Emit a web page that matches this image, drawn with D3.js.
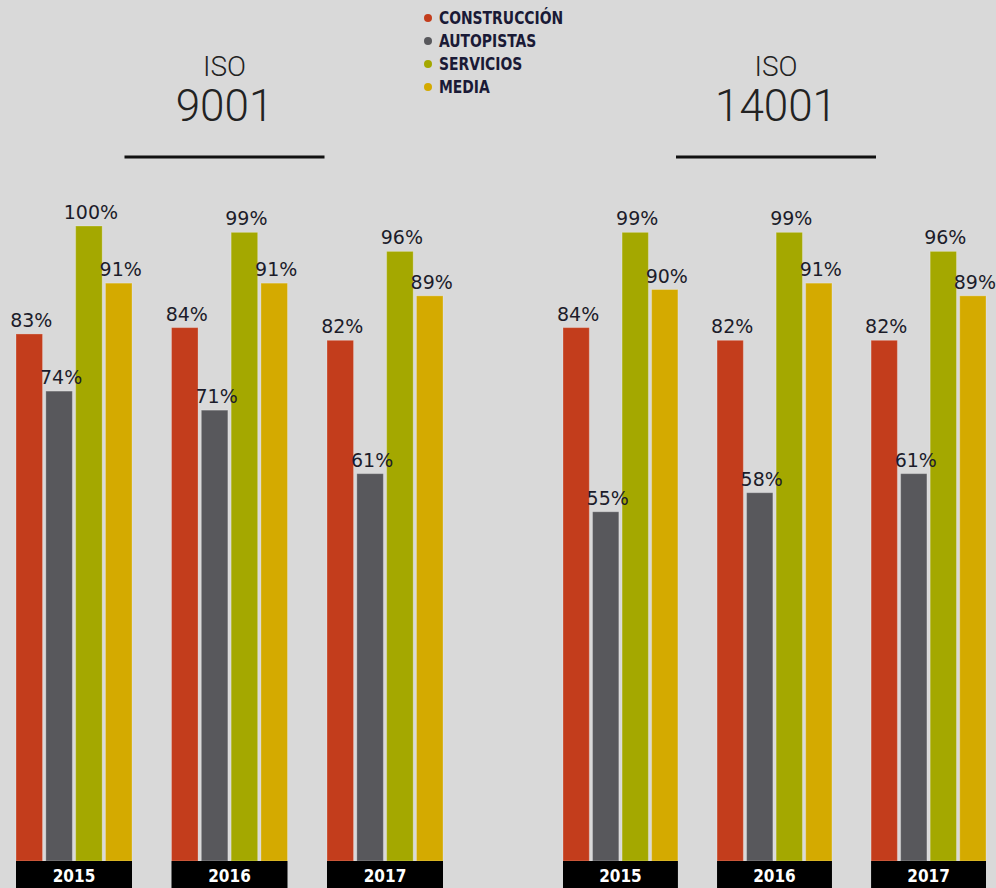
<!DOCTYPE html>
<html>
<head>
<meta charset="utf-8">
<script src="https://cdn.jsdelivr.net/npm/d3@7"></script>
<style>
  body { margin: 0; background: #d9d9d9; }
  svg { display: block; }
</style>
</head>
<body>
<div id="chart"></div>
<script>
// data
const years = ["2015", "2016", "2017"];
const series = ["CONSTRUCCIÓN", "AUTOPISTAS", "SERVICIOS", "MEDIA"];
const colors = ["#c33d1c", "#58585c", "#a4a800", "#d4aa00"];
const iso9001Values = [[83, 74, 100, 91], [84, 71, 99, 91], [82, 61, 96, 89]];
const iso14001Values = [[84, 55, 99, 90], [82, 58, 99, 91], [82, 61, 96, 89]];

var width = 996, height = 888;

var svg = d3.select("#chart").append("svg")
    .attr("width", width)
    .attr("height", height);

svg.append("rect").attr("width", width).attr("height", height).attr("fill", "#d9d9d9");

var y = d3.scaleLinear().domain([0, 100]).range([861, 226]);
var color = d3.scaleOrdinal().domain(series).range(colors);

var panels = [
    { name: "9001", values: iso9001Values, x0: 16, x1: 443, tx: 224.5 },
    { name: "14001", values: iso14001Values, x0: 563, x1: 986, tx: 776 }
];

panels.forEach(function(p) {
    var x = d3.scaleBand().domain(years).range([p.x0, p.x1]).paddingInner(0.254);
    var xi = d3.scaleBand().domain(series).range([0, x.bandwidth()]).paddingInner(0.11);
    var cx = p.tx;

    // title
    var t = svg.append("g").attr("class", "title");
    t.append("text")
        .attr("x", cx).attr("y", 76)
        .attr("text-anchor", "middle")
        .style("font-family", "Roboto, Liberation Sans, sans-serif")
        .style("font-weight", "300")
        .style("font-size", "28px")
        .style("fill", "#222")
        .text("ISO");
    t.append("text")
        .attr("x", cx).attr("y", 121)
        .attr("text-anchor", "middle")
        .style("font-family", "Roboto, Liberation Sans, sans-serif")
        .style("font-weight", "300")
        .style("font-size", "44px")
        .style("fill", "#222")
        .text(p.name);
    t.append("line")
        .attr("x1", cx - 100).attr("x2", cx + 100)
        .attr("y1", 157).attr("y2", 157)
        .attr("stroke", "#111").attr("stroke-width", 3);

    var g = svg.selectAll(".grp-" + p.name)
        .data(years)
        .enter().append("g")
        .attr("class", "grp-" + p.name)
        .attr("transform", function(d) { return "translate(" + x(d) + ",0)"; });

    g.selectAll("rect.bar")
        .data(function(d, i) {
            return p.values[i].map(function(v, j) { return { s: series[j], v: v }; });
        })
        .enter().append("rect")
        .attr("class", "bar")
        .attr("x", function(d) { return xi(d.s); })
        .attr("y", function(d) { return y(d.v); })
        .attr("width", xi.bandwidth())
        .attr("height", function(d) { return y(0) - y(d.v); })
        .attr("fill", function(d) { return color(d.s); })
        .attr("stroke", "rgba(255,255,255,0.25)")
        .attr("stroke-width", 1);

    //value labels
    g.selectAll("text.val")
        .data(function(d, i) {
            return p.values[i].map(function(v, j) { return { s: series[j], v: v }; });
        })
        .enter().append("text")
        .attr("class", "val")
        .attr("x", function(d) { return xi(d.s) + xi.bandwidth() / 2 + 2; })
        .attr("y", function(d) { return y(d.v) - 7; })
        .attr("text-anchor", "middle")
        .style("font-family", "DejaVu Sans, sans-serif")
        .style("font-size", "19px")
        .style("fill", "#1c1c2a")
        .text(function(d) { return d.v + "%"; });

    // year strip
    g.append("rect")
        .attr("x", 0).attr("y", y(0))
        .attr("width", x.bandwidth())
        .attr("height", height - y(0))
        .attr("fill", "#000");
    g.append("text")
        .attr("x", x.bandwidth() / 2).attr("y", 882)
        .attr("text-anchor", "middle")
        .style("font-family", "DejaVu Sans Condensed, DejaVu Sans, sans-serif")
        .style("font-stretch", "condensed")
        .style("font-weight", "bold")
        .style("font-size", "17px")
        .style("fill", "#fff")
        .text(function(d) { return d; });
});

// legend
var legend = svg.selectAll(".legend")
    .data(series)
    .enter().append("g")
    .attr("class", "legend")
    .attr("transform", function(d, i) { return "translate(428," + (18 + i * 23) + ")"; });

legend.append("circle")
    .attr("r", 4)
    .attr("fill", function(d) { return color(d); });

legend.append("text")
    .attr("x", 12).attr("dy", "0.36em")
    .attr("transform", "scale(0.91,1)")
    .style("font-family", "DejaVu Sans Condensed, sans-serif")
    .style("font-stretch", "condensed")
    .style("font-weight", "bold")
    .style("font-size", "17px")
    .style("fill", "#1a1a36")
    .text(function(d) { return d; });
</script>
</body>
</html>
